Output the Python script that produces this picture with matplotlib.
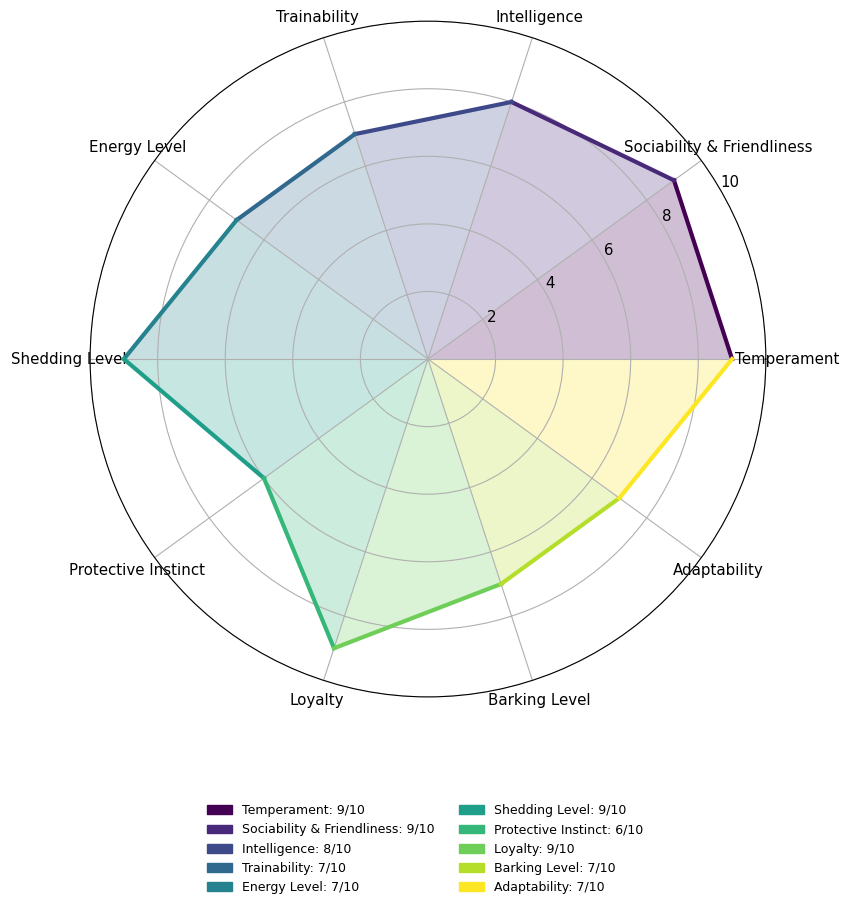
import numpy as np
import matplotlib
matplotlib.use("Agg")
import matplotlib.pyplot as plt

categories = ["Temperament", "Sociability & Friendliness", "Intelligence", "Trainability",
              "Energy Level", "Shedding Level", "Protective Instinct", "Loyalty",
              "Barking Level", "Adaptability"]
values = [9, 9, 8, 7, 7, 9, 6, 9, 7, 7]
rticks = [2, 4, 6, 8, 10]

n = len(categories)
angles = np.linspace(0, 2 * np.pi, n, endpoint=False)
colors = plt.cm.viridis(np.linspace(0, 1, n))

fig = plt.figure(figsize=(8.5, 9.06), dpi=100)
ax = fig.add_axes([0.106, 0.2307, 0.795, 0.746], projection="polar")

handles = []
for i in range(n):
    j = (i + 1) % n
    th = [angles[i], angles[j] if j != 0 else 2 * np.pi]
    r = [values[i], values[j]]
    ax.fill([0, th[0], th[1]], [0, r[0], r[1]], color=colors[i], alpha=0.25, linewidth=0)
    ax.plot(th, r, color=colors[i], linewidth=3)
    handles.append(plt.Rectangle((0, 0), 1, 1, facecolor=colors[i], edgecolor=colors[i],
                                 label=f"{categories[i]}: {values[i]}/10"))

ax.set_ylim(0, 10)
ax.set_yticks(rticks)
ax.set_yticklabels([str(t) for t in rticks], fontsize=10.8)
ax.set_rlabel_position(30)
ax.set_xticks(angles)
ax.set_xticklabels(categories, fontsize=10.8)
ax.tick_params(axis="x", pad=5)

fig.legend(handles=handles, loc="upper center", bbox_to_anchor=(0.5, 0.125),
           ncol=2, frameon=False, fontsize=9)

fig.savefig("out.png", dpi=100)
